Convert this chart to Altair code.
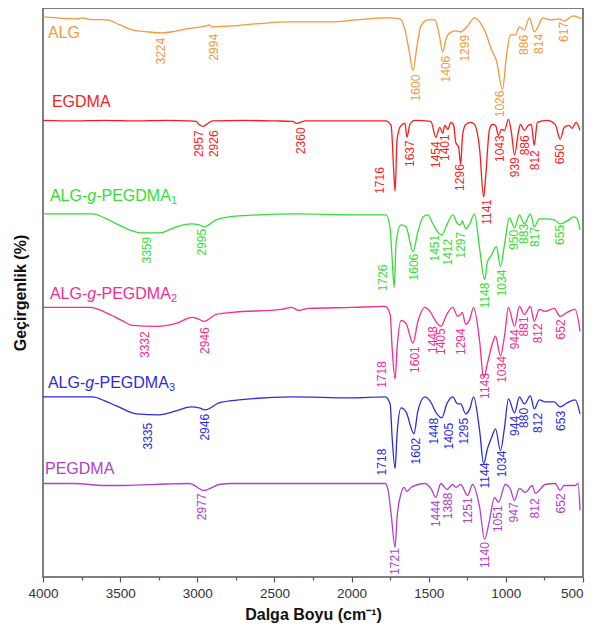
import altair as alt
import pandas as pd

SERIES = ["ALG", "EGDMA", "ALG-g-PEGDMA1", "ALG-g-PEGDMA2", "ALG-g-PEGDMA3", "PEGDMA"]
COLORS = ["#F5973A", "#F81C1C", "#33DD33", "#F72C8C", "#2B2BE0", "#B040D0"]

# ---- spectra: wavenumber (cm-1) and vertically offset transmittance (a.u.) ----
ALG_WN = [4000, 3780, 3742, 3700, 3587, 3500, 3420, 3320, 3226, 3150, 3072, 2943, 2924, 2905, 2775, 2621, 2408, 2343,
          2131, 1976, 1763, 1686, 1654, 1628, 1602, 1576, 1550, 1505, 1460, 1434, 1409, 1389, 1364,
          1325, 1293, 1248, 1203, 1170, 1131, 1093, 1061, 1022, 996, 970, 938, 912, 880, 848, 816,
          758, 713, 655, 622, 564, 510]
ALG_T = [563, 561, 562, 560.5, 560, 555, 550, 548, 547, 548.5, 551, 554, 555, 553, 554, 556, 558, 558,
         558, 560, 562, 561, 550, 530, 509, 534, 554, 560, 560, 547, 528, 540, 547,
         549, 548, 554, 562, 558, 547, 530, 519, 490, 524, 545, 545, 553, 550, 562, 548,
         562, 560, 561, 559, 564, 561]

EGDMA_WN = [4000, 3800, 3600, 3400, 3200, 3050, 3007, 2988, 2962, 2940, 2900, 2700, 2500, 2380, 2356,
            2335, 2300, 2000, 1780, 1744, 1724, 1718, 1705, 1679, 1654, 1641, 1622, 1589, 1486, 1454,
            1428, 1409, 1396, 1376, 1357, 1338, 1325, 1306, 1293, 1280, 1260, 1228, 1203, 1170, 1144,
            1132, 1106, 1087, 1067, 1048, 1028, 1009, 983, 964, 944, 919, 906, 880, 854, 835, 816,
            796, 732, 680, 648, 622, 590, 571, 545, 519]
EGDMA_T = [459, 458.5, 459, 458.5, 459, 458.5, 458, 455, 453, 455, 458.5, 459, 458.5, 458, 456,
           457, 458.5, 458.5, 458.5, 454, 400, 388, 440, 454, 456, 442, 455, 459, 458, 442,
           452, 446, 454, 450, 457, 454, 437, 432, 415, 445, 455, 457, 455, 430, 382,
           400, 450, 455, 454, 444, 450, 449, 460, 447, 424, 447, 455, 449, 454, 455, 434,
           457, 459, 455, 440, 452, 454, 451, 457, 449]

G1_WN = [4000, 3800, 3678, 3600, 3523, 3440, 3375, 3246, 3136, 3040, 2988, 2955, 2878, 2730, 2343, 2000, 1776,
         1750, 1737, 1724, 1711, 1679, 1647, 1602, 1570, 1537, 1505, 1479, 1447, 1415, 1383, 1344,
         1312, 1293, 1283, 1260, 1234, 1203, 1170, 1138, 1119, 1099, 1061, 1035, 1009, 977, 944,
         912, 880, 841, 816, 783, 745, 687, 648, 603, 558, 538, 519]
G1_T = [365, 365, 365, 361, 355, 349, 346, 346, 352, 355, 354, 352, 359, 363, 365, 364, 364,
        350, 320, 291, 337, 354, 352, 327, 347, 362, 364, 357, 348, 344, 354, 364,
        355, 354, 358, 350, 355, 365, 330, 299, 317, 322, 332, 312, 334, 361, 351,
        364, 355, 365, 352, 360, 360, 359, 355, 358, 362, 360, 349]

G2_WN = [4000, 3697, 3568, 3490, 3420, 3265, 3136, 3033, 2988, 2955, 2878, 2775, 2453, 2388, 2343, 2279,
         2000, 1783, 1750, 1737, 1718, 1705, 1679, 1647, 1602, 1570, 1525, 1492, 1454, 1421, 1383,
         1344, 1312, 1293, 1283, 1260, 1234, 1209, 1170, 1144, 1119, 1087, 1067, 1035, 1009, 983,
         944, 912, 880, 841, 816, 783, 745, 687, 648, 603, 551, 519]
G2_T = [271, 271, 264, 258, 253, 252, 255, 261, 259, 257, 264, 266, 269, 271, 268, 270,
        271, 272, 264, 230, 199, 230, 258, 255, 235, 257, 271, 267, 257, 252, 264,
        271, 262, 264, 266, 254, 259, 271, 237, 200, 215, 235, 242, 222, 242, 271,
        252, 272, 264, 272, 257, 269, 267, 270, 262, 266, 269, 247]

G3_WN = [4000, 3678, 3600, 3523, 3394, 3246, 3136, 3040, 2988, 2949, 2859, 2730, 2388, 2000, 1782, 1750,
         1737, 1718, 1705, 1679, 1647, 1596, 1570, 1525, 1492, 1447, 1415, 1383, 1344, 1312, 1293,
         1260, 1234, 1209, 1170, 1144, 1119, 1093, 1067, 1035, 1009, 983, 944, 912, 880, 841,
         816, 783, 745, 687, 648, 603, 551, 519]
G3_T = [181, 181, 177, 172, 164, 163, 167, 171, 170, 168, 175, 178, 181, 180, 181, 174,
        140, 109, 144, 170, 166, 144, 167, 181, 177, 164, 160, 174, 181, 174, 174,
        164, 169, 181, 147, 114, 129, 140, 149, 127, 150, 179, 165, 181, 174, 182,
        169, 178, 176, 176, 171, 175, 178, 164]

PEG_WN = [4000, 3800, 3600, 3470, 3200, 3052, 2955, 2859, 2775, 2408, 2000, 1782, 1763, 1744, 1718,
          1705, 1679, 1660, 1641, 1615, 1525, 1486, 1454, 1421, 1383, 1344, 1325, 1293, 1248, 1215,
          1170, 1138, 1106, 1074, 1048, 1003, 970, 944, 912, 873, 829, 809, 745, 680, 648, 622,
          551, 532, 519]
PEG_T = [94, 94, 92, 92, 93.5, 94, 87, 93, 94, 94, 94, 94, 87, 64, 30,
         60, 84, 90, 86, 90, 94, 89, 80, 94, 88, 93, 90, 93, 82, 93,
         70, 38, 57, 80, 75, 93, 88, 77, 89, 85, 92, 84, 93, 94, 87, 92,
         92, 94, 67]

SPECTRA = [(SERIES[0], ALG_WN, ALG_T), (SERIES[1], EGDMA_WN, EGDMA_T), (SERIES[2], G1_WN, G1_T),
           (SERIES[3], G2_WN, G2_T), (SERIES[4], G3_WN, G3_T), (SERIES[5], PEG_WN, PEG_T)]

# ---- peak annotations: text, x position (cm-1), top of label (a.u.) ----
ALG_PK = ["3224", "2994", "1600", "1406", "1299", "1026", "886", "814", "617"]
ALG_PK_WN = [3233, 2891, 1583, 1389, 1267, 1035, 880, 783, 622]
ALG_PK_T = [542, 546, 505, 524, 545, 489, 545, 546, 558]

EGDMA_PK = ["2957", "2926", "2360", "1716", "1637", "1454", "1401", "1296", "1141", "1043", "939", "886", "812", "650"]
EGDMA_PK_WN = [2988, 2891, 2331, 1815, 1622, 1454, 1396, 1299, 1125, 1041, 938, 874, 809, 648]
EGDMA_PK_T = [449, 449, 452, 412, 439, 438, 445, 415, 380, 444, 422, 444, 429, 435]

G1_PK = ["3359", "2995", "1726", "1606", "1451", "1412", "1297", "1148", "1034", "950", "883", "817", "655"]
G1_PK_WN = [3323, 2969, 1795, 1596, 1460, 1376, 1293, 1138, 1022, 944, 880, 809, 648]
G1_PK_T = [342, 350, 314, 325, 344, 340, 347, 296, 309, 349, 355, 352, 354]

G2_PK = ["3332", "2946", "1718", "1601", "1448", "1405", "1294", "1143", "1034", "944", "881", "812", "652"]
G2_PK_WN = [3336, 2949, 1802, 1589, 1469, 1419, 1293, 1138, 1022, 938, 880, 790, 641]
G2_PK_T = [247, 251, 217, 232, 252, 250, 250, 205, 222, 249, 262, 255, 259]

G3_PK = ["3335", "2946", "1718", "1602", "1448", "1405", "1295", "1144", "1034", "944", "880", "812", "653"]
G3_PK_WN = [3317, 2949, 1802, 1583, 1467, 1370, 1273, 1138, 1022, 938, 880, 790, 641]
G3_PK_T = [155, 164, 129, 140, 160, 155, 160, 115, 127, 162, 170, 165, 167]

PEG_PK = ["2977", "1721", "1444", "1388", "1251", "1140", "1051", "947", "812", "652"]
PEG_PK_WN = [2969, 1718, 1454, 1376, 1248, 1138, 1048, 944, 809, 641]
PEG_PK_T = [84, 29, 77, 85, 80, 35, 72, 75, 79, 84]

PEAKS = [(SERIES[0], ALG_PK, ALG_PK_WN, ALG_PK_T), (SERIES[1], EGDMA_PK, EGDMA_PK_WN, EGDMA_PK_T),
         (SERIES[2], G1_PK, G1_PK_WN, G1_PK_T), (SERIES[3], G2_PK, G2_PK_WN, G2_PK_T),
         (SERIES[4], G3_PK, G3_PK_WN, G3_PK_T), (SERIES[5], PEG_PK, PEG_PK_WN, PEG_PK_T)]

# ---- series name labels ----
NAME_WN = [3968, 3942, 3955, 3955, 3968, 3987]
NAME_T = [547, 478, 383, 284, 195, 109]
SIMPLE_NAMES = ["ALG", "EGDMA", "PEGDMA"]
GRAFT_SUB = {"ALG-g-PEGDMA1": "1", "ALG-g-PEGDMA2": "2", "ALG-g-PEGDMA3": "3"}

rows = []
for name, wn, t in SPECTRA:
    for a, b in zip(wn, t):
        rows.append({"series": name, "wn": a, "t": b})
df_lines = pd.DataFrame(rows)

rows = []
for name, txt, wn, t in PEAKS:
    for a, b, c in zip(txt, wn, t):
        rows.append({"series": name, "label": a, "wn": b, "t": c})
df_peaks = pd.DataFrame(rows)

df_names = pd.DataFrame({"series": SERIES, "wn": NAME_WN, "t": NAME_T})
df_simple = df_names[df_names["series"].isin(SIMPLE_NAMES)]
df_graft = df_names[df_names["series"].isin(list(GRAFT_SUB))].copy()
df_graft["sub"] = df_graft["series"].map(GRAFT_SUB)

FONT = "Liberation Sans"

x_enc = alt.X(
    "wn:Q",
    scale=alt.Scale(domain=[500, 4000], reverse=True, nice=False, zero=False),
    axis=alt.Axis(
        values=list(range(500, 4001, 250)),
        labelExpr="datum.value % 500 == 0 ? format(datum.value, 'd') : ''",
        tickSize={"condition": {"test": "datum.value % 500 != 0", "value": 3}, "value": 5},
        labelAlign={"condition": {"test": "datum.value == 500", "value": "right"}, "value": "center"},
        labelFlush=False, labelOverlap=False, domain=False, grid=False,
        labelFont=FONT, labelFontSize=13.5, labelColor="#333333", labelPadding=4,
        tickColor="#555555", tickWidth=1.2,
        title="Dalga Boyu (cm⁻¹)", titleFont=FONT, titleFontSize=16, titleFontWeight="bold",
        titleColor="#111111", titlePadding=7,
    ),
)
y_enc = alt.Y(
    "t:Q",
    scale=alt.Scale(domain=[0, 572], nice=False, zero=False),
    axis=alt.Axis(
        labels=False, ticks=False, domain=False, grid=False,
        title="Geçirgenlik (%)", titleFont=FONT, titleFontSize=16, titleFontWeight="bold",
        titleColor="#111111", titlePadding=15,
    ),
)
color_enc = alt.Color("series:N", scale=alt.Scale(domain=SERIES, range=COLORS), legend=None)

lines = alt.Chart(df_lines).mark_line(strokeWidth=1.3, interpolate="monotone").encode(
    x=x_enc, y=y_enc, color=color_enc, detail="series:N"
)

peaks = alt.Chart(df_peaks).mark_text(
    angle=270, align="right", baseline="middle", fontSize=12, font=FONT
).encode(x=x_enc, y=y_enc, color=color_enc, text="label:N")

simple = alt.Chart(df_simple).mark_text(
    align="left", baseline="middle", fontSize=16, font=FONT
).encode(x=x_enc, y=y_enc, color=color_enc, text="series:N")

base_g = alt.Chart(df_graft)
g_a = base_g.mark_text(align="left", baseline="middle", fontSize=16, font=FONT).encode(
    x=x_enc, y=y_enc, color=color_enc, text=alt.value("ALG-"))
g_b = base_g.mark_text(align="left", baseline="middle", fontSize=16, font=FONT,
                       fontStyle="italic", dx=37.3).encode(
    x=x_enc, y=y_enc, color=color_enc, text=alt.value("g"))
g_c = base_g.mark_text(align="left", baseline="middle", fontSize=16, font=FONT, dx=46.2).encode(
    x=x_enc, y=y_enc, color=color_enc, text=alt.value("-PEGDMA"))
g_d = base_g.mark_text(align="left", baseline="middle", fontSize=11, font=FONT, dx=121, dy=5).encode(
    x=x_enc, y=y_enc, color=color_enc, text="sub:N")

chart = alt.layer(lines, peaks, simple, g_a, g_b, g_c, g_d).properties(
    width=540, height=569,
    autosize=alt.AutoSizeParams(type="none"),
    padding={"left": 35, "top": 0, "right": 4, "bottom": 47},
).configure_view(stroke="#555555", strokeWidth=1.5)

chart.save("out.html", embed_options={"renderer": "svg", "actions": False})
